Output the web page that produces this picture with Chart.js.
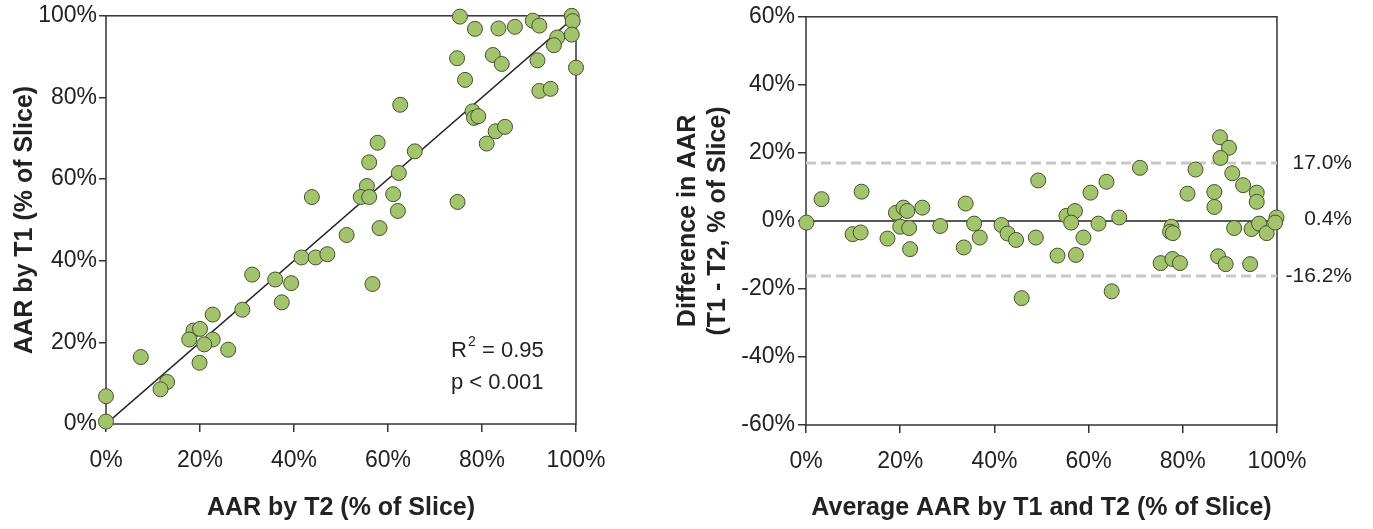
<!DOCTYPE html>
<html>
<head>
<meta charset="utf-8">
<script src="https://cdn.jsdelivr.net/npm/chart.js@4.4.1/dist/chart.umd.min.js"></script>
<style>
    html, body { margin: 0; padding: 0; background: #fff; }
    .panel { position: absolute; top: 0; }
    #leftPanel { left: 0; }
    #rightPanel { left: 640px; }
</style>
</head>
<body>
<div class="panel" id="leftPanel"><canvas id="corrChart" width="640" height="529"></canvas></div>
<div class="panel" id="rightPanel"><canvas id="blandChart" width="733" height="529"></canvas></div>
<script>
// Left panel: AAR by T2 (x) vs AAR by T1 (y), in %
const aarT2 = [75.3, 78.5, 83.5, 87.0, 90.8, 92.2, 99.1, 99.3, 96.0, 95.3, 99.1, 100.0, 74.7, 82.3, 84.2, 91.8,
    76.4, 92.2, 94.6, 62.6, 78.0, 78.3, 79.2, 82.9, 84.9, 81.0, 57.8, 56.0, 65.7, 62.3, 55.5, 54.2, 56.0, 61.1,
    74.8, 62.1, 43.8, 41.6, 44.6, 47.1, 51.2, 58.2, 56.7, 31.1, 36.0, 39.4, 37.4, 29.0, 22.7, 18.6, 20.0, 17.7,
    22.7, 20.9, 26.0, 19.9, 7.4, 13.0, 11.6, 0.0, 0.0];
const aarT1 = [99.8, 96.8, 96.9, 97.3, 98.8, 97.6, 100.0, 98.7, 94.7, 92.8, 95.4, 87.3, 89.6, 90.4, 88.2, 89.1,
    84.3, 81.6, 82.1, 78.2, 76.6, 75.0, 75.4, 71.7, 72.8, 68.7, 68.9, 64.1, 66.8, 61.5, 58.3, 55.6, 55.6, 56.3,
    54.4, 52.2, 55.6, 40.8, 40.8, 41.6, 46.3, 48.0, 34.3, 36.6, 35.4, 34.5, 29.8, 28.0, 26.8, 22.9, 23.3, 20.7,
    20.7, 19.5, 18.2, 15.0, 16.4, 10.3, 8.5, 6.8, 0.6];
const identityLine = [0, 100];
const rSquared = 0.95;
const pLabel = 'p < 0.001';

// Right panel: mean of T1 and T2 (x) vs difference T1 - T2 (y), in %
const avgAar = [0.1, 3.3, 11.8, 9.9, 11.6, 17.3, 19.1, 20.7, 21.5, 20.0, 21.9, 22.1, 24.7, 28.5, 33.9, 33.5,
    35.7, 36.9, 41.5, 42.8, 44.6, 45.8, 48.8, 49.3, 53.4, 57.3, 58.9, 55.3, 57.1, 56.3, 62.1, 60.4, 63.8, 66.5,
    64.9, 70.9, 75.3, 77.8, 79.4, 77.6, 77.3, 77.9, 81.0, 82.7, 86.7, 86.7, 87.9, 89.8, 88.0, 90.5, 92.8, 95.7,
    95.7, 87.5, 89.1, 94.3, 90.9, 94.6, 96.2, 97.8, 99.9, 99.6];
const diffAar = [-0.5, 6.4, 8.6, -3.9, -3.4, -5.2, 2.4, 3.9, 2.9, -1.7, -2.1, -8.3, 3.9, -1.5, 5.1, -7.8,
    -0.8, -4.9, -1.2, -3.7, -5.6, -22.7, -4.9, 11.9, -10.2, -10.0, -4.9, 1.5, 2.9, -0.5, -0.8, 8.3, 11.5, 1.0,
    -20.7, 15.6, -12.4, -11.2, -12.4, -1.7, -3.2, -3.6, 8.0, 15.1, 8.5, 4.1, 24.6, 21.5, 18.5, 14.0, 10.5, 8.3,
    5.6, -10.4, -12.7, -12.7, -2.1, -2.4, -0.8, -3.6, 1.0, -0.5];
const upperLoa = 17.0;
const meanDiff = 0.4;
const lowerLoa = -16.2;
const xRange = [0, 100];

const FONT = "'Liberation Sans', Arial, Helvetica, sans-serif";
const INK = '#222';
const AXIS = '#333';
const DOT_FILL = '#a3c46c';
const DOT_EDGE = '#44522e';

function toPoints(xs, ys) {
    return xs.map(function(x, i) { return { x: x, y: ys[i] }; });
}

function pct(v) { return v + '%'; }

// draws the box around the plot area
const framePlugin = {
    id: 'frame',
    beforeDatasetsDraw: function(chart) {
        const a = chart.chartArea;
        const ctx = chart.ctx;
        ctx.save();
        ctx.strokeStyle = AXIS;
        ctx.lineWidth = 1.5;
        ctx.strokeRect(a.left, a.top, a.right - a.left, a.bottom - a.top);
        ctx.restore();
    }
};

const statsPlugin = {
    id: 'stats',
    afterDraw: function(chart) {
        const a = chart.chartArea;
        const ctx = chart.ctx;
        const x0 = a.right - 125;
        ctx.save();
        ctx.fillStyle = INK;
        ctx.textBaseline = 'middle';
        ctx.textAlign = 'left';
        ctx.font = '22px ' + FONT;
        ctx.fillText('R', x0, a.top + 335);
        const rw = ctx.measureText('R').width;
        ctx.font = '14px ' + FONT;
        ctx.fillText('2', x0 + rw + 1, a.top + 326);
        ctx.font = '22px ' + FONT;
        ctx.fillText(' = ' + rSquared.toFixed(2), x0 + rw + 9, a.top + 335);
        ctx.fillText(pLabel, x0, a.top + 367);
        ctx.restore();
    }
};

function axisBase(min, max, titleText, fit) {
    return {
        type: 'linear',
        min: min,
        max: max,
        border: { display: false },
        grid: { drawOnChartArea: false, drawTicks: true, tickLength: 8, color: AXIS, lineWidth: 1.5 },
        ticks: { stepSize: 20, callback: pct, color: INK, font: { family: FONT, size: 23 } },
        title: { display: true, text: titleText, color: INK, font: { family: FONT, size: 25, weight: 'bold', lineHeight: 1.2 } },
        afterFit: fit
    };
}

const dotStyle = {
    pointRadius: 7.5,
    pointHoverRadius: 7.5,
    pointBackgroundColor: DOT_FILL,
    pointBorderColor: DOT_EDGE,
    pointBorderWidth: 1,
    showLine: false,
    clip: false,
    order: 0
};

const commonOpts = {
    responsive: false,
    animation: false,
    events: [],
    plugins: { legend: { display: false }, tooltip: { enabled: false } }
};

// ---- left: correlation ----
const xLeft = axisBase(0, 100, 'AAR by T2 (% of Slice)', function(s) { s.height = 105; });
xLeft.ticks.padding = 15;
xLeft.title.padding = { top: 0, bottom: 6 };
const yLeft = axisBase(0, 100, 'AAR by T1 (% of Slice)', function(s) { s.width = 106; });
yLeft.grid.tickLength = 7;
yLeft.ticks.padding = 2;
yLeft.title.padding = { top: 10, bottom: 0 };

new Chart(document.getElementById('corrChart'), {
    type: 'scatter',
    data: {
        datasets: [
            Object.assign({ data: toPoints(aarT2, aarT1) }, dotStyle),
            {
                data: toPoints(identityLine, identityLine),
                showLine: true,
                borderColor: '#222',
                borderWidth: 1.5,
                pointRadius: 0,
                order: 1
            }
        ]
    },
    options: Object.assign({}, commonOpts, {
        layout: { padding: { top: 14, right: 64, left: 0, bottom: 0 } },
        scales: { x: xLeft, y: yLeft }
    }),
    plugins: [framePlugin, statsPlugin]
});

// ---- right: Bland-Altman ----
const xRight = axisBase(0, 100, 'Average AAR by T1 and T2 (% of Slice)', function(s) { s.height = 104; });
xRight.ticks.padding = 15;
xRight.title.padding = { top: 0, bottom: 6 };
const yRight = axisBase(-60, 60, ['Difference in AAR', '(T1 - T2, % of Slice)'], function(s) { s.width = 166; });
yRight.ticks.padding = 3;
yRight.title.padding = { top: 33, bottom: 0 };

function hLine(y, color, width, dash) {
    return {
        data: toPoints(xRange, [y, y]),
        showLine: true,
        borderColor: color,
        borderWidth: width,
        borderDash: dash,
        pointRadius: 0,
        clip: false,
        order: 1
    };
}

new Chart(document.getElementById('blandChart'), {
    type: 'scatter',
    data: {
        datasets: [
            Object.assign({ data: toPoints(avgAar, diffAar) }, dotStyle),
            hLine(0, '#222', 1.5, []),
            hLine(upperLoa, '#c8c8c8', 3, [10, 5]),
            hLine(lowerLoa, '#c8c8c8', 3, [10, 5])
        ]
    },
    options: Object.assign({}, commonOpts, {
        layout: { padding: { top: 14, right: 21, left: 0, bottom: 0 } },
        scales: {
            x: xRight,
            y: yRight,
            y2: {
                type: 'linear',
                position: 'right',
                min: -60,
                max: 60,
                border: { display: false },
                grid: { display: false },
                afterBuildTicks: function(axis) {
                    axis.ticks = [upperLoa, meanDiff, lowerLoa].map(function(v) { return { value: v }; });
                },
                afterFit: function(s) { s.width = 75; },
                ticks: {
                    crossAlign: 'far',
                    padding: 4,
                    color: INK,
                    font: { family: FONT, size: 21 },
                    callback: function(v) { return Number(v).toFixed(1) + '%'; }
                }
            }
        }
    }),
    plugins: [framePlugin]
});
</script>
</body>
</html>
